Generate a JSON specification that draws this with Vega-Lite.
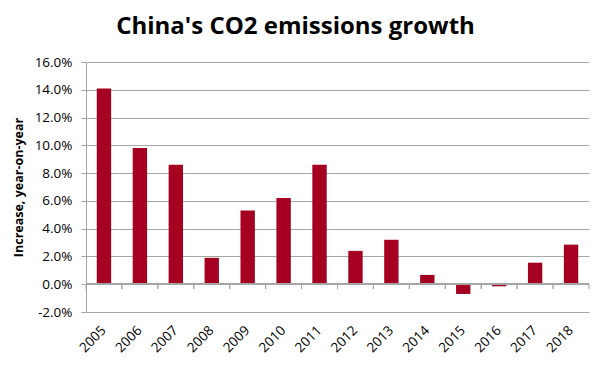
{
  "$schema": "https://vega.github.io/schema/vega-lite/v6.json",
  "autosize": "none",
  "width": 503,
  "height": 250,
  "padding": {"left": 86, "top": 62, "right": 11, "bottom": 53},
  "background": "white",
  "title": {
    "text": "China's CO2 emissions growth",
    "font": "Open Sans",
    "fontSize": 24,
    "fontWeight": "bold",
    "color": "#000000",
    "anchor": "middle",
    "dx": -42,
    "offset": 16
  },
  "config": {
    "view": {"stroke": null},
    "axisX": {
      "title": null,
      "domain": false,
      "ticks": false,
      "grid": false,
      "labelAngle": -45,
      "labelAlign": "right",
      "labelBaseline": "middle",
      "labelPadding": 16,
      "labelOverlap": false,
      "labelFont": "Open Sans",
      "labelFontSize": 13.5,
      "labelColor": "#000000"
    },
    "axisY": {
      "titleFont": "Open Sans",
      "titleFontSize": 12.5,
      "titleFontWeight": "bold",
      "titleColor": "#000000",
      "titlePadding": 9,
      "labelOverlap": false,
      "labelFont": "Open Sans",
      "labelFontSize": 13.5,
      "labelColor": "#000000",
      "labelPadding": 9,
      "domainColor": "#A6A6A6",
      "tickColor": "#A6A6A6",
      "tickSize": 5,
      "gridColor": "#A6A6A6",
      "grid": true
    }
  },
  "data": {
    "values": [
      {"year": "2005", "growth": 0.141},
      {"year": "2006", "growth": 0.098},
      {"year": "2007", "growth": 0.086},
      {"year": "2008", "growth": 0.019},
      {"year": "2009", "growth": 0.053},
      {"year": "2010", "growth": 0.062},
      {"year": "2011", "growth": 0.086},
      {"year": "2012", "growth": 0.024},
      {"year": "2013", "growth": 0.032},
      {"year": "2014", "growth": 0.0067},
      {"year": "2015", "growth": -0.007},
      {"year": "2016", "growth": -0.0015},
      {"year": "2017", "growth": 0.0155},
      {"year": "2018", "growth": 0.0285}
    ]
  },
  "layer": [
    {
      "mark": {"type": "bar", "color": "#A50021", "width": {"band": 0.4}},
      "encoding": {
        "x": {
          "field": "year",
          "type": "ordinal",
          "scale": {"paddingInner": 0, "paddingOuter": 0},
          "axis": {"title": null}
        },
        "y": {
          "field": "growth",
          "type": "quantitative",
          "scale": {"domain": [-0.02, 0.16], "nice": false, "zero": false},
          "axis": {
            "title": "Increase, year-on-year",
            "values": [-0.02, 0, 0.02, 0.04, 0.06, 0.08, 0.1, 0.12, 0.14, 0.16],
            "labelExpr": "replace(format(datum.value, '.1%'), '\u2212', '-')"
          }
        }
      }
    },
    {
      "mark": {"type": "rule", "color": "#A6A6A6"},
      "encoding": {
        "x": {"field": "year", "type": "ordinal", "bandPosition": 0, "axis": {"title": null}},
        "y": {
          "datum": 0,
          "type": "quantitative",
          "axis": {
            "title": "Increase, year-on-year",
            "values": [-0.02, 0, 0.02, 0.04, 0.06, 0.08, 0.1, 0.12, 0.14, 0.16],
            "labelExpr": "replace(format(datum.value, '.1%'), '\u2212', '-')"
          }
        },
        "y2": {"datum": -0.0035}
      }
    },
    {
      "mark": {"type": "rule", "color": "#A6A6A6"},
      "encoding": {
        "x": {"field": "year", "type": "ordinal", "bandPosition": 1, "axis": {"title": null}},
        "y": {
          "datum": 0,
          "type": "quantitative",
          "axis": {
            "title": "Increase, year-on-year",
            "values": [-0.02, 0, 0.02, 0.04, 0.06, 0.08, 0.1, 0.12, 0.14, 0.16],
            "labelExpr": "replace(format(datum.value, '.1%'), '\u2212', '-')"
          }
        },
        "y2": {"datum": -0.0035}
      }
    },
    {
      "mark": {"type": "rule", "color": "#A6A6A6"},
      "encoding": {
        "y": {
          "datum": 0,
          "type": "quantitative",
          "axis": {
            "title": "Increase, year-on-year",
            "values": [-0.02, 0, 0.02, 0.04, 0.06, 0.08, 0.1, 0.12, 0.14, 0.16],
            "labelExpr": "replace(format(datum.value, '.1%'), '\u2212', '-')"
          }
        }
      }
    }
  ]
}
